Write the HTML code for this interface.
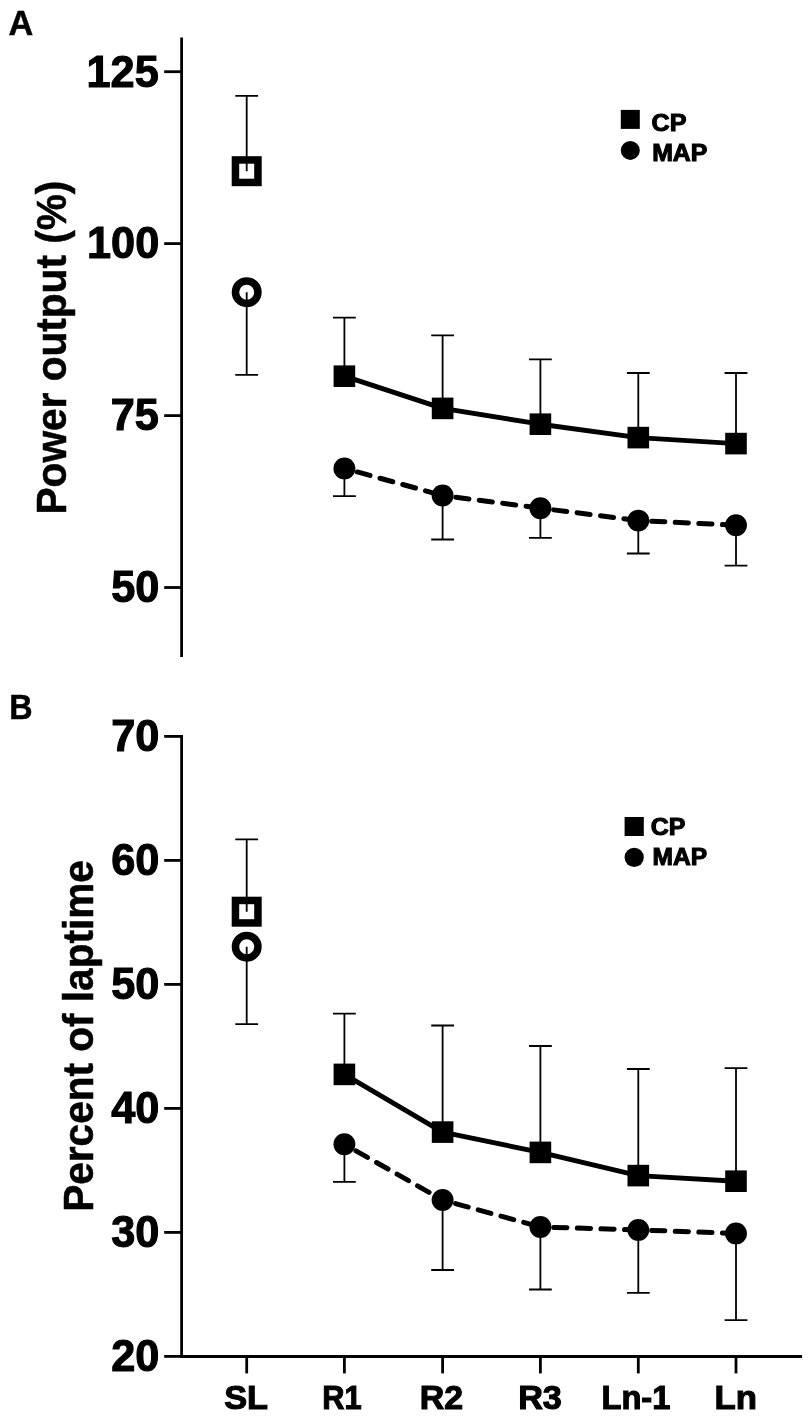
<!DOCTYPE html>
<html lang="en"><head><meta charset="utf-8"><title>Figure</title>
<style>html,body{margin:0;padding:0;background:#fff}body{width:812px;height:1417px;overflow:hidden}</style>
</head><body>
<svg width="812" height="1417" viewBox="0 0 812 1417" style="display:block" font-family="'Liberation Sans', Arial, Helvetica, sans-serif" font-weight="700" fill="#000">
<rect width="812" height="1417" fill="#fff"/>
<text transform="translate(8.45,34.75) scale(0.9856,1)" font-size="34.74" stroke="#000" stroke-width="0.5">A</text>
<text transform="translate(9.37,718.75) scale(0.9395,1)" font-size="34.37" stroke="#000" stroke-width="0.5">B</text>
<line x1="181.6" y1="37.5" x2="181.6" y2="657" stroke="#000" stroke-width="2.8"/>
<line x1="164.2" y1="71.7" x2="181.6" y2="71.7" stroke="#000" stroke-width="2.8"/><text transform="translate(86.51,86.55) scale(0.9576,1)" font-size="45.2" stroke="#000" stroke-width="1.1">125</text>
<line x1="164.2" y1="243.6" x2="181.6" y2="243.6" stroke="#000" stroke-width="2.8"/><text transform="translate(87.05,258.45) scale(0.9576,1)" font-size="45.2" stroke="#000" stroke-width="1.1">100</text>
<line x1="164.2" y1="415.6" x2="181.6" y2="415.6" stroke="#000" stroke-width="2.8"/><text transform="translate(110.64,430.45) scale(0.9576,1)" font-size="45.2" stroke="#000" stroke-width="1.1">75</text>
<line x1="164.2" y1="587.5" x2="181.6" y2="587.5" stroke="#000" stroke-width="2.8"/><text transform="translate(111.18,602.35) scale(0.9576,1)" font-size="45.2" stroke="#000" stroke-width="1.1">50</text>
<text transform="translate(65.95,514.49) rotate(-90) scale(0.9473,1)" font-size="42.88" stroke="#000" stroke-width="0.5">Power output (%)</text>
<rect x="235.45" y="159.95" width="22.5" height="22.5" fill="#fff" stroke="#000" stroke-width="7.5"/>
<circle cx="246.7" cy="292.2" r="11.25" fill="#fff" stroke="#000" stroke-width="7.5"/>
<path d="M246.7 171.2V95.8M235.3 95.8H258.1" fill="none" stroke="#000" stroke-width="1.8"/>
<path d="M246.7 292.2V374.8M235.3 374.8H258.1" fill="none" stroke="#000" stroke-width="1.8"/>
<path d="M344.4 376.2V317.6M333 317.6H355.8" fill="none" stroke="#000" stroke-width="1.8"/>
<path d="M344.4 468.4V496.1M333 496.1H355.8" fill="none" stroke="#000" stroke-width="1.8"/>
<path d="M442.6 408.4V335.3M431.2 335.3H454" fill="none" stroke="#000" stroke-width="1.8"/>
<path d="M442.6 495.5V539.5M431.2 539.5H454" fill="none" stroke="#000" stroke-width="1.8"/>
<path d="M540.4 424.2V359.3M529 359.3H551.8" fill="none" stroke="#000" stroke-width="1.8"/>
<path d="M540.4 508.2V537.8M529 537.8H551.8" fill="none" stroke="#000" stroke-width="1.8"/>
<path d="M638.3 437.6V373M626.9 373H649.7" fill="none" stroke="#000" stroke-width="1.8"/>
<path d="M638.3 520.6V553.5M626.9 553.5H649.7" fill="none" stroke="#000" stroke-width="1.8"/>
<path d="M736 443.6V373M724.6 373H747.4" fill="none" stroke="#000" stroke-width="1.8"/>
<path d="M736 525.2V565.6M724.6 565.6H747.4" fill="none" stroke="#000" stroke-width="1.8"/>
<polyline points="344.4,376.2 442.6,408.4 540.4,424.2 638.3,437.6 736,443.6" fill="none" stroke="#000" stroke-width="4.9" stroke-linejoin="round"/>
<g fill="none" stroke="#000" stroke-width="5" stroke-linecap="round" stroke-dasharray="13.2 10.4" stroke-dashoffset="10.25"><line x1="344.4" y1="468.4" x2="442.6" y2="495.5"/><line x1="442.6" y1="495.5" x2="540.4" y2="508.2"/><line x1="540.4" y1="508.2" x2="638.3" y2="520.6"/><line x1="638.3" y1="520.6" x2="736" y2="525.2"/></g>
<rect x="333.6" y="365.4" width="21.6" height="21.6" fill="#000"/>
<circle cx="344.4" cy="468.4" r="10.95" fill="#000"/>
<rect x="431.8" y="397.6" width="21.6" height="21.6" fill="#000"/>
<circle cx="442.6" cy="495.5" r="10.95" fill="#000"/>
<rect x="529.6" y="413.4" width="21.6" height="21.6" fill="#000"/>
<circle cx="540.4" cy="508.2" r="10.95" fill="#000"/>
<rect x="627.5" y="426.8" width="21.6" height="21.6" fill="#000"/>
<circle cx="638.3" cy="520.6" r="10.95" fill="#000"/>
<rect x="725.2" y="432.8" width="21.6" height="21.6" fill="#000"/>
<circle cx="736" cy="525.2" r="10.95" fill="#000"/>
<rect x="620.8" y="109.9" width="19" height="19" fill="#000"/><circle cx="630.3" cy="150.4" r="9.5" fill="#000"/>
<text transform="translate(651.55,130.65) scale(1.0156,1)" font-size="24.71" stroke="#000" stroke-width="1.1">CP</text>
<text transform="translate(652.17,161.45) scale(1.0120,1)" font-size="24.56" stroke="#000" stroke-width="1.1">MAP</text>
<line x1="181.6" y1="735" x2="181.6" y2="1357.9" stroke="#000" stroke-width="2.8"/>
<line x1="181.6" y1="1356.4" x2="802" y2="1356.4" stroke="#000" stroke-width="3"/>
<line x1="164.2" y1="736.4" x2="181.6" y2="736.4" stroke="#000" stroke-width="2.8"/><text transform="translate(111.18,751.25) scale(0.9576,1)" font-size="45.2" stroke="#000" stroke-width="1.1">70</text>
<line x1="164.2" y1="860.4" x2="181.6" y2="860.4" stroke="#000" stroke-width="2.8"/><text transform="translate(111.18,875.25) scale(0.9576,1)" font-size="45.2" stroke="#000" stroke-width="1.1">60</text>
<line x1="164.2" y1="984.4" x2="181.6" y2="984.4" stroke="#000" stroke-width="2.8"/><text transform="translate(111.18,999.25) scale(0.9576,1)" font-size="45.2" stroke="#000" stroke-width="1.1">50</text>
<line x1="164.2" y1="1108.4" x2="181.6" y2="1108.4" stroke="#000" stroke-width="2.8"/><text transform="translate(111.18,1123.25) scale(0.9576,1)" font-size="45.2" stroke="#000" stroke-width="1.1">40</text>
<line x1="164.2" y1="1232.4" x2="181.6" y2="1232.4" stroke="#000" stroke-width="2.8"/><text transform="translate(111.18,1247.25) scale(0.9576,1)" font-size="45.2" stroke="#000" stroke-width="1.1">30</text>
<line x1="164.2" y1="1356.4" x2="181.6" y2="1356.4" stroke="#000" stroke-width="2.8"/><text transform="translate(111.18,1371.25) scale(0.9576,1)" font-size="45.2" stroke="#000" stroke-width="1.1">20</text>
<line x1="246.7" y1="1356.4" x2="246.7" y2="1373.4" stroke="#000" stroke-width="2.8"/>
<text transform="translate(224.22,1408.65) scale(1.0270,1)" font-size="33.43" stroke="#000" stroke-width="1.1">SL</text>
<line x1="344.4" y1="1356.4" x2="344.4" y2="1373.4" stroke="#000" stroke-width="2.8"/>
<text transform="translate(322.17,1408.65) scale(0.9208,1)" font-size="33.43" stroke="#000" stroke-width="1.1">R1</text>
<line x1="442.6" y1="1356.4" x2="442.6" y2="1373.4" stroke="#000" stroke-width="2.8"/>
<text transform="translate(419.76,1408.65) scale(1.0150,1)" font-size="33.43" stroke="#000" stroke-width="1.1">R2</text>
<line x1="540.4" y1="1356.4" x2="540.4" y2="1373.4" stroke="#000" stroke-width="2.8"/>
<text transform="translate(518.14,1408.65) scale(1.0234,1)" font-size="33.43" stroke="#000" stroke-width="1.1">R3</text>
<line x1="638.3" y1="1356.4" x2="638.3" y2="1373.4" stroke="#000" stroke-width="2.8"/>
<text transform="translate(601.44,1408.65) scale(0.9783,1)" font-size="33.43" stroke="#000" stroke-width="1.1">Ln-1</text>
<line x1="736" y1="1356.4" x2="736" y2="1373.4" stroke="#000" stroke-width="2.8"/>
<text transform="translate(714.5,1408.65) scale(1.0405,1)" font-size="33.43" stroke="#000" stroke-width="1.1">Ln</text>
<text transform="translate(92.55,1211.79) rotate(-90) scale(0.9367,1)" font-size="43.31" stroke="#000" stroke-width="0.5">Percent of laptime</text>
<rect x="235.45" y="900.45" width="22.5" height="22.5" fill="#fff" stroke="#000" stroke-width="7.5"/>
<circle cx="246.7" cy="946.7" r="11.25" fill="#fff" stroke="#000" stroke-width="7.5"/>
<path d="M246.7 911.7V839.4M235.3 839.4H258.1" fill="none" stroke="#000" stroke-width="1.8"/>
<path d="M246.7 946.7V1024.2M235.3 1024.2H258.1" fill="none" stroke="#000" stroke-width="1.8"/>
<path d="M344.4 1074.4V1013.7M333 1013.7H355.8" fill="none" stroke="#000" stroke-width="1.8"/>
<path d="M344.4 1144.3V1181.9M333 1181.9H355.8" fill="none" stroke="#000" stroke-width="1.8"/>
<path d="M442.6 1132.1V1025.5M431.2 1025.5H454" fill="none" stroke="#000" stroke-width="1.8"/>
<path d="M442.6 1200V1270M431.2 1270H454" fill="none" stroke="#000" stroke-width="1.8"/>
<path d="M540.4 1152.4V1046M529 1046H551.8" fill="none" stroke="#000" stroke-width="1.8"/>
<path d="M540.4 1227V1289.5M529 1289.5H551.8" fill="none" stroke="#000" stroke-width="1.8"/>
<path d="M638.3 1175.6V1069M626.9 1069H649.7" fill="none" stroke="#000" stroke-width="1.8"/>
<path d="M638.3 1229.9V1292.8M626.9 1292.8H649.7" fill="none" stroke="#000" stroke-width="1.8"/>
<path d="M736 1181.2V1068.2M724.6 1068.2H747.4" fill="none" stroke="#000" stroke-width="1.8"/>
<path d="M736 1233.4V1320.2M724.6 1320.2H747.4" fill="none" stroke="#000" stroke-width="1.8"/>
<polyline points="344.4,1074.4 442.6,1132.1 540.4,1152.4 638.3,1175.6 736,1181.2" fill="none" stroke="#000" stroke-width="4.9" stroke-linejoin="round"/>
<g fill="none" stroke="#000" stroke-width="5" stroke-linecap="round" stroke-dasharray="13.2 10.4" stroke-dashoffset="10.25"><line x1="344.4" y1="1144.3" x2="442.6" y2="1200"/><line x1="442.6" y1="1200" x2="540.4" y2="1227"/><line x1="540.4" y1="1227" x2="638.3" y2="1229.9"/><line x1="638.3" y1="1229.9" x2="736" y2="1233.4"/></g>
<rect x="333.6" y="1063.6" width="21.6" height="21.6" fill="#000"/>
<circle cx="344.4" cy="1144.3" r="10.95" fill="#000"/>
<rect x="431.8" y="1121.3" width="21.6" height="21.6" fill="#000"/>
<circle cx="442.6" cy="1200" r="10.95" fill="#000"/>
<rect x="529.6" y="1141.6" width="21.6" height="21.6" fill="#000"/>
<circle cx="540.4" cy="1227" r="10.95" fill="#000"/>
<rect x="627.5" y="1164.8" width="21.6" height="21.6" fill="#000"/>
<circle cx="638.3" cy="1229.9" r="10.95" fill="#000"/>
<rect x="725.2" y="1170.4" width="21.6" height="21.6" fill="#000"/>
<circle cx="736" cy="1233.4" r="10.95" fill="#000"/>
<rect x="624.6" y="817.0" width="19.2" height="19" fill="#000"/><circle cx="634.2" cy="857.4" r="9.6" fill="#000"/>
<text transform="translate(650.85,835.35) scale(1.0154,1)" font-size="24.56" stroke="#000" stroke-width="1.1">CP</text>
<text transform="translate(652.49,865.45) scale(0.9946,1)" font-size="24.71" stroke="#000" stroke-width="1.1">MAP</text>
</svg>
</body></html>
